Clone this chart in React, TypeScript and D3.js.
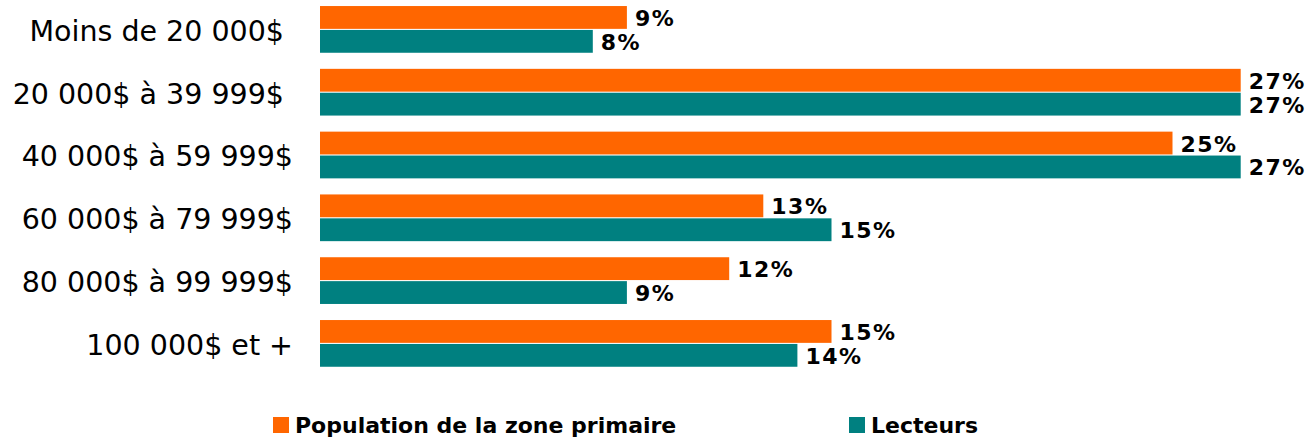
import React, { useEffect, useRef } from 'react'
import * as d3 from 'd3'

// chart data
const categories = [
  'Moins de 20 000$ ',
  '20 000$ à 39 999$ ',
  '40 000$ à 59 999$',
  '60 000$ à 79 999$',
  '80 000$ à 99 999$',
  '100 000$ et +',
]
const seriesNames = ['Population de la zone primaire', 'Lecteurs']
const populationValues = [9, 27, 25, 13, 12, 15]
const lecteursValues = [8, 27, 27, 15, 9, 14]
const seriesColors = ['#ff6600', '#008080']

const App: React.FC = () => {
  const svgRef = useRef<SVGSVGElement>(null)

  const width = 1315
  const height = 439

  useEffect(() => {
    if (!svgRef.current) return
    const svg = d3.select(svgRef.current)
    svg.selectAll('*').remove()

    const rows = categories.map((c, i) => ({
      category: c,
      values: [populationValues[i], lecteursValues[i]],
    }))

    // x scale: 0..30 %
    const xScale = d3.scaleLinear().domain([0, 30]).range([320, 1343])

    // outer band for categories, inner band for the two series
    const yScale = d3
      .scaleBand()
      .domain(categories)
      .range([-2, 374.8])
      .paddingInner(0.256)
      .paddingOuter(0.128)

    const ySub = d3
      .scaleBand()
      .domain(seriesNames)
      .range([0, yScale.bandwidth()])
      .paddingInner(0.045)

    const groups = svg
      .selectAll('.row')
      .data(rows)
      .enter()
      .append('g')
      .attr('class', 'row')
      .attr('transform', (d) => `translate(0, ${yScale(d.category)})`)

    // bars
    groups
      .selectAll('rect')
      .data((d) => d.values.map((v, j) => ({ v, s: seriesNames[j], j })))
      .enter()
      .append('rect')
      .attr('x', xScale(0))
      .attr('y', (d) => ySub(d.s) || 0)
      .attr('width', (d) => xScale(d.v) - xScale(0))
      .attr('height', ySub.bandwidth())
      .attr('fill', (d) => seriesColors[d.j])

    // value labels
    groups
      .selectAll('.bar-value')
      .data((d) => d.values.map((v, j) => ({ v, s: seriesNames[j], j })))
      .enter()
      .append('text')
      .attr('class', 'bar-value')
      .attr('x', (d) => xScale(d.v) + 8)
      .attr('y', (d) => (ySub(d.s) || 0) + ySub.bandwidth() / 2 + 8.5)
      .style('font-family', 'DejaVu Sans')
      .style('font-weight', 'bold')
      .style('font-size', '22px')
      .style('letter-spacing', '1.5px')
      .attr('fill', '#000')
      .text((d) => `${d.v}%`)

    // category labels
    groups
      .append('text')
      .attr('x', 293)
      .attr('y', yScale.bandwidth() / 2 + 11.5)
      .attr('text-anchor', 'end')
      .style('white-space', 'pre')
      .style('font-family', 'DejaVu Sans')
      .style('font-size', '28.5px')
      .attr('fill', '#000')
      .text((d) => d.category)

    // legend
    const legendX = [273, 849]
    const legend = svg
      .selectAll('.legend')
      .data(seriesNames)
      .enter()
      .append('g')
      .attr('class', 'legend')
      .attr('transform', (d, i) => `translate(${legendX[i]}, 417)`)

    legend
      .append('rect')
      .attr('width', 16)
      .attr('height', 16)
      .attr('fill', (d, i) => seriesColors[i])

    legend
      .append('text')
      .attr('x', 22)
      .attr('y', 16)
      .style('font-family', 'DejaVu Sans')
      .style('font-weight', 'bold')
      .style('font-size', '22px')
      .attr('fill', '#000')
      .text((d) => d)
  }, [])

  return (
    <div style={{ position: 'fixed', left: 0, top: 0 }}>
      <svg ref={svgRef} width={width} height={height} style={{ display: 'block', background: '#fff' }}></svg>
    </div>
  )
}

export default App
